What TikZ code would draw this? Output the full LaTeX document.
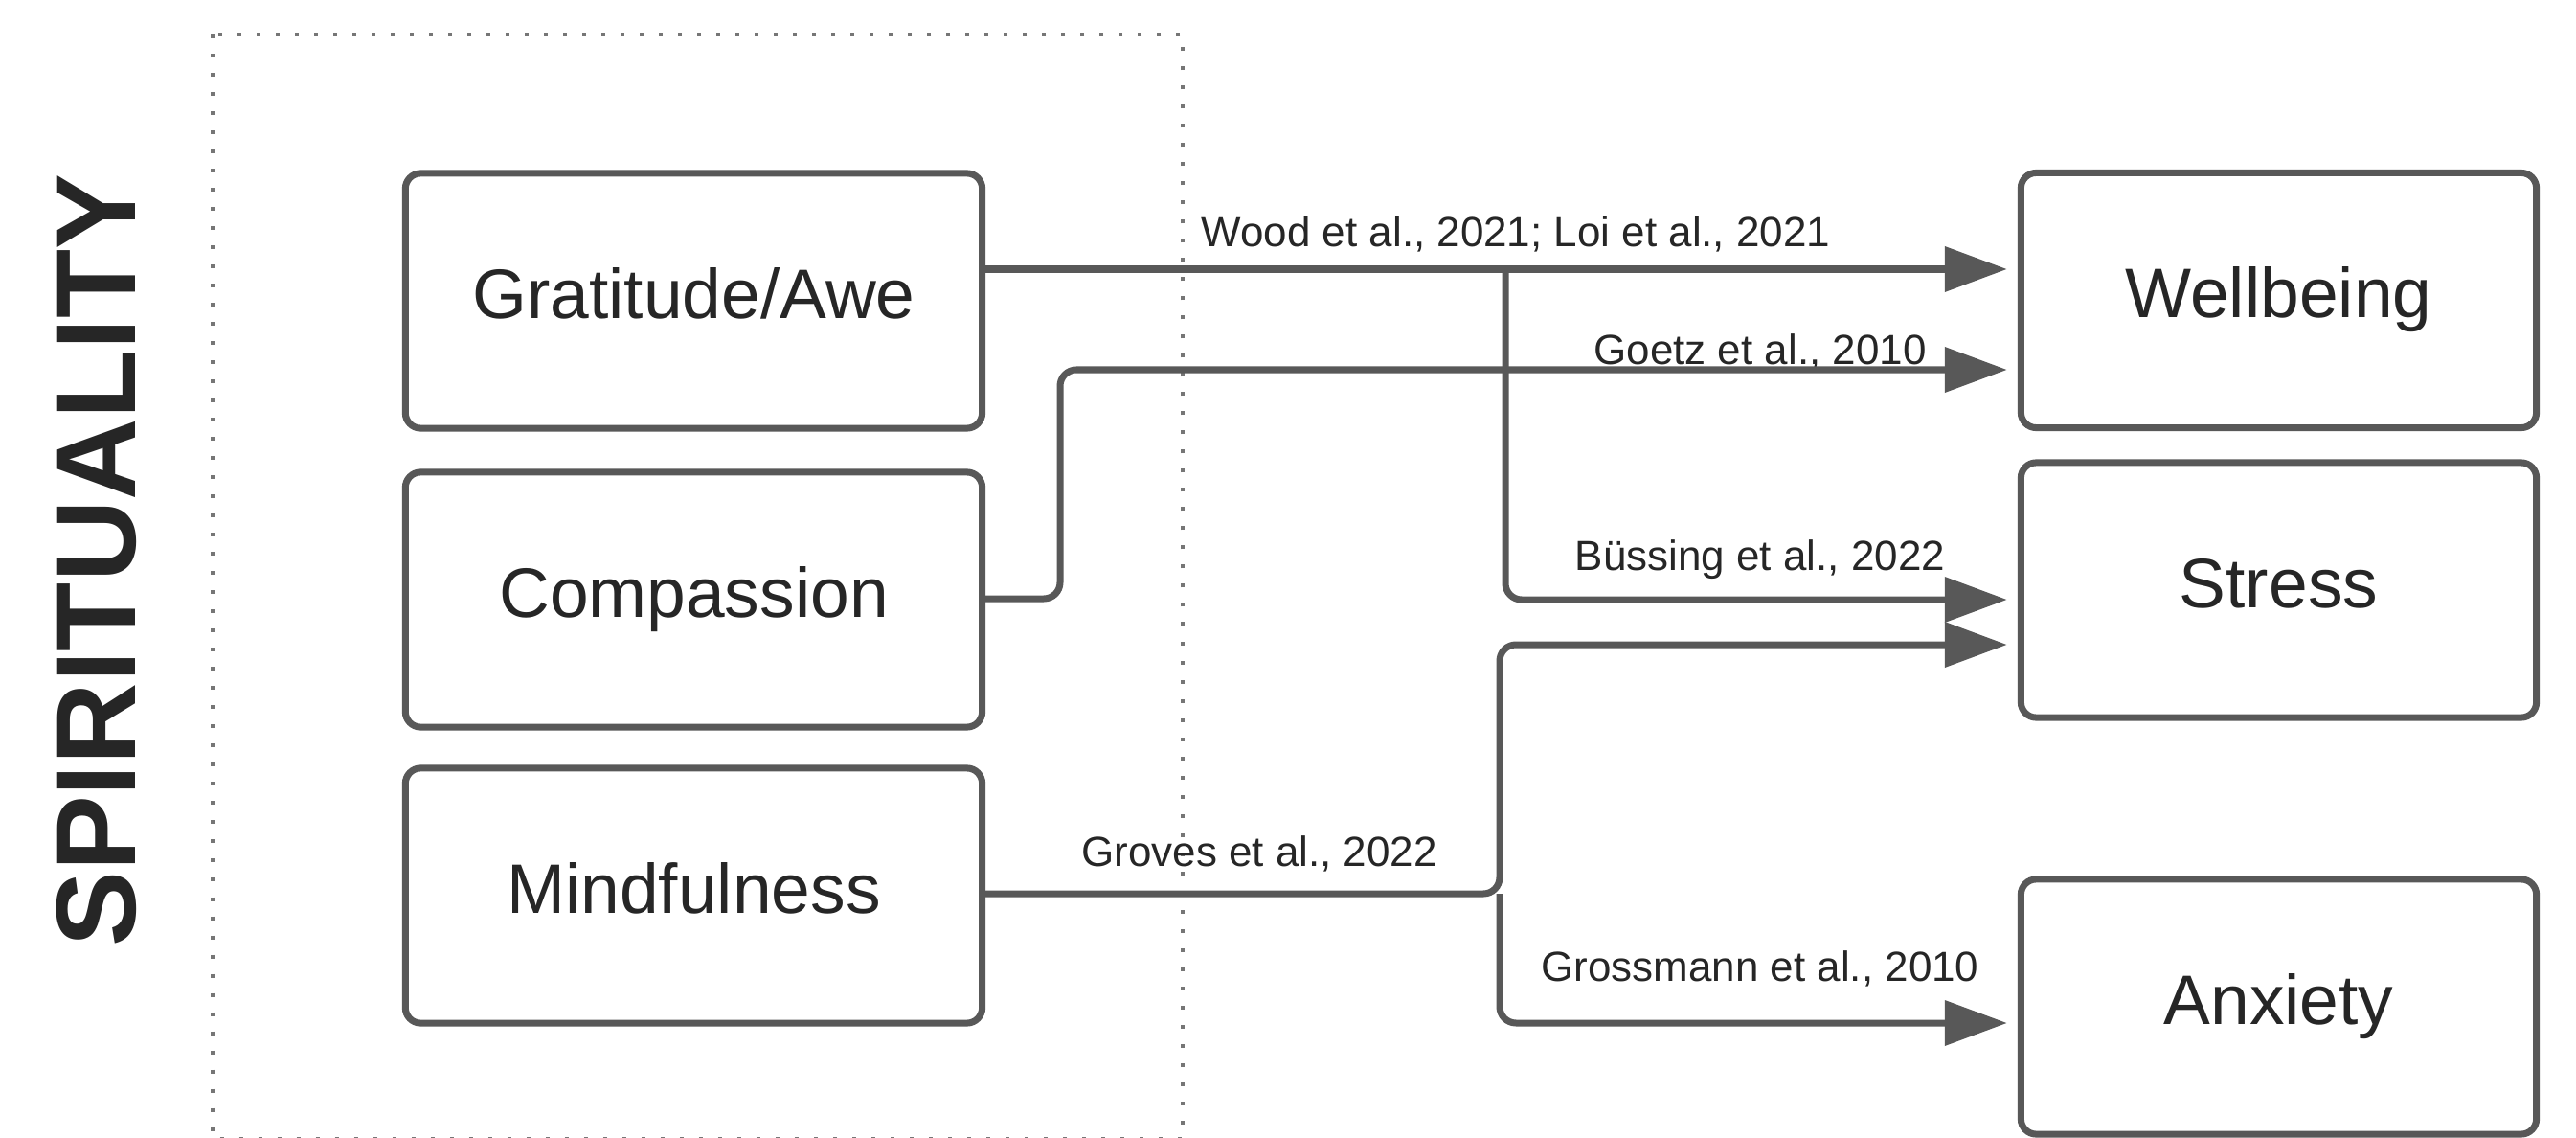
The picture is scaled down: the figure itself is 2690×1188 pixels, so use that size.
\documentclass[tikz,border=0pt]{standalone}
\usepackage{fontspec}
\setmainfont{Liberation Sans}
\usetikzlibrary{arrows.meta}
\definecolor{linegray}{HTML}{585858}
\definecolor{dotgray}{HTML}{767676}
\definecolor{txt}{HTML}{262626}
\begin{document}
\begin{tikzpicture}[x=0.01cm, y=-0.01cm,
  box/.style={draw=linegray, line width=0.07cm, rounded corners=0.16cm, minimum height=2.66cm,
    text height=0.56cm, text depth=0.2cm, inner sep=0pt, font=\fontsize{20.8pt}{24pt}\selectfont, text=txt},
  lbox/.style={box, minimum width=6.02cm},
  rbox/.style={box, minimum width=5.38cm},
  conn/.style={draw=linegray, line width=0.07cm, rounded corners=0.17cm,
    -{Triangle[length=0.65cm, width=0.46cm]}, shorten >=0.11cm},
  cite/.style={anchor=base, inner sep=0pt, font=\fontsize{12.5pt}{15pt}\selectfont, text=txt},
  dotframe/.style={draw=dotgray, line width=0.045cm, dash pattern=on 0.04cm off 0.16cm}
]
\useasboundingbox (0,0) rectangle (2690,1188);
\fill[white] (0,0) rectangle (2690,1188);
\draw[dotframe] (222,36) rectangle (1235,1189);
\node[rotate=90, anchor=base, inner sep=0pt, font=\fontsize{33.6pt}{40pt}\selectfont\bfseries, text=txt] (spirit) at (141,585) {SPIRITUALITY};
\node[lbox] (grat) at (724.5,314) {Gratitude/Awe};
\node[lbox] (comp) at (724.5,626) {Compassion};
\node[lbox] (mind) at (724.5,935) {Mindfulness};
\node[rbox] (well) at (2379.5,313.5) {Wellbeing};
\node[rbox] (stress) at (2379.5,616) {Stress};
\node[rbox] (anx) at (2379.5,1051) {Anxiety};
\node[cite] (l1) at (1583,258) {Wood et al., 2021; Loi et al., 2021};
\node[cite] (l2) at (1838,380) {Goetz et al., 2010};
\node[cite] (l3) at (1838,595) {Büssing et al., 2022};
\node[cite] (l4) at (1315,904) {Groves et al., 2022};
\node[cite] (l5) at (1838,1024) {Grossmann et al., 2010};
\coordinate (j1) at (1572,281);
\coordinate (j2) at (1566,933);
\draw[conn] (grat.east |- j1) -- (well.west |- j1);
\draw[conn] (j1) |- (stress.west |- 0,626);
\draw[conn] (comp.east |- 0,625) -- (1107,625) -- (1107,386) -- (well.west |- 0,386);
\draw[conn] (mind.east |- j2) -- (j2) -- (1566,673) -- (stress.west |- 0,673);
\draw[conn] (j2) |- (anx.west |- 0,1068);
\end{tikzpicture}
\end{document}
